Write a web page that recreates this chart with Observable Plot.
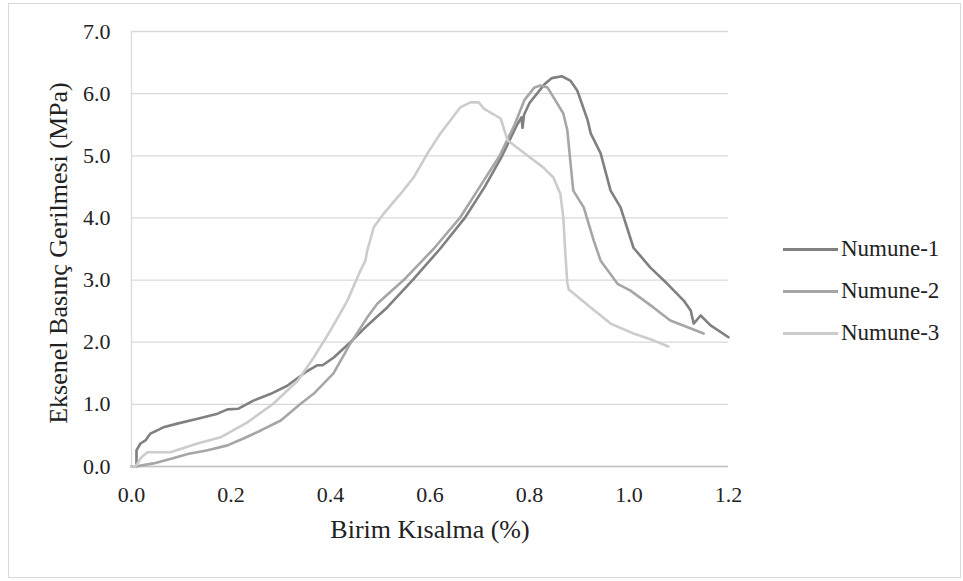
<!DOCTYPE html>
<html>
<head>
<meta charset="utf-8">
<script src="https://cdn.jsdelivr.net/npm/d3@7"></script>
<script src="https://cdn.jsdelivr.net/npm/@observablehq/plot@0.6"></script>
<style>
  html, body { margin: 0; padding: 0; background: #fff; }
  #wrap { position: relative; width: 963px; height: 581px; font-family: "Liberation Serif", "Times New Roman", serif; color: #222; }
  #frame { position: absolute; left: 8px; top: 3px; width: 951px; height: 573px; border: 1.5px solid #d9d9d9; }
  #chart { position: absolute; left: 0; top: 0; }
  .title { position: absolute; font-size: 26px; white-space: nowrap; transform: translate(-50%, -50%); }
  .ytitle { transform: translate(-50%, -50%) rotate(-90deg); }
  .leg { position: absolute; left: 783px; height: 30px; display: flex; align-items: center; transform: translateY(-50%); font-size: 23px; white-space: nowrap; }
  .leg span.sw { display: inline-block; width: 55px; height: 3px; margin-right: 3px; }
</style>
</head>
<body>
<div id="wrap">
  <div id="frame"></div>
  <div id="chart"></div>
  <div class="title ytitle" style="left:59px; top:253px;">Eksenel Basınç Gerilmesi (MPa)</div>
  <div class="title" style="left:430px; top:530px;">Birim Kısalma (%)</div>
  <div id="legend"></div>
</div>
<script>
// ---- Data ----
const seriesNames = ["Numune-1", "Numune-2", "Numune-3"];
const seriesColors = ["#808080", "#a6a6a6", "#cccccc"];

const xTicks = [0, 0.2, 0.4, 0.6, 0.8, 1.0, 1.2];
const yTicks = [0, 1, 2, 3, 4, 5, 6, 7];

const n1X = [0, 0.01, 0.01, 0.018, 0.028, 0.038, 0.064, 0.092, 0.133, 0.173, 0.193, 0.215, 0.245, 0.28, 0.313, 0.354, 0.374, 0.384, 0.406, 0.44, 0.474, 0.514, 0.565, 0.62, 0.67, 0.71, 0.745, 0.775, 0.784, 0.786, 0.789, 0.80, 0.83, 0.845, 0.865, 0.882, 0.896, 0.917, 0.923, 0.943, 0.963, 0.983, 1.009, 1.043, 1.077, 1.11, 1.124, 1.13, 1.144, 1.164, 1.2];
const n1Y = [0, 0, 0.26, 0.37, 0.42, 0.53, 0.63, 0.69, 0.77, 0.85, 0.92, 0.93, 1.06, 1.17, 1.30, 1.54, 1.63, 1.63, 1.75, 2.0, 2.27, 2.56, 3.0, 3.5, 4.0, 4.5, 5.0, 5.5, 5.62, 5.45, 5.66, 5.85, 6.15, 6.25, 6.28, 6.21, 6.05, 5.57, 5.36, 5.04, 4.44, 4.17, 3.52, 3.2, 2.94, 2.67, 2.51, 2.30, 2.43, 2.27, 2.08];

const n2X = [0, 0.008, 0.044, 0.078, 0.113, 0.153, 0.193, 0.225, 0.26, 0.3, 0.34, 0.366, 0.406, 0.44, 0.474, 0.494, 0.547, 0.607, 0.66, 0.70, 0.74, 0.77, 0.79, 0.81, 0.822, 0.836, 0.856, 0.868, 0.876, 0.882, 0.888, 0.909, 0.929, 0.943, 0.977, 1.003, 1.049, 1.083, 1.118, 1.15];
const n2Y = [0, 0, 0.05, 0.12, 0.2, 0.26, 0.34, 0.45, 0.58, 0.74, 1.01, 1.17, 1.5, 1.98, 2.40, 2.62, 3.0, 3.5, 4.0, 4.5, 5.0, 5.5, 5.9, 6.1, 6.13, 6.10, 5.84, 5.68, 5.41, 4.92, 4.44, 4.17, 3.64, 3.31, 2.94, 2.83, 2.56, 2.35, 2.24, 2.14];

const n3X = [0, 0.008, 0.02, 0.032, 0.078, 0.133, 0.179, 0.233, 0.285, 0.334, 0.366, 0.4, 0.434, 0.46, 0.47, 0.474, 0.487, 0.507, 0.541, 0.567, 0.595, 0.621, 0.661, 0.681, 0.698, 0.708, 0.742, 0.756, 0.782, 0.828, 0.848, 0.862, 0.868, 0.872, 0.876, 0.879, 0.923, 0.963, 1.009, 1.049, 1.079];
const n3Y = [0, 0, 0.15, 0.23, 0.23, 0.37, 0.47, 0.71, 1.01, 1.38, 1.75, 2.19, 2.67, 3.15, 3.31, 3.48, 3.85, 4.07, 4.39, 4.65, 5.04, 5.36, 5.78, 5.86, 5.86, 5.76, 5.60, 5.25, 5.09, 4.81, 4.65, 4.39, 4.0, 3.43, 2.95, 2.85, 2.56, 2.3, 2.14, 2.03, 1.93];

// ---- Build table ----
const seriesX = [n1X, n2X, n3X];
const seriesY = [n1Y, n2Y, n3Y];
const rows = [];
seriesNames.forEach((name, i) => {
  seriesX[i].forEach((x, j) => rows.push({series: name, x, y: seriesY[i][j]}));
});

const fmt = d3.format(".1f");
const chart = Plot.plot({
  width: 963,
  height: 581,
  marginLeft: 131,
  marginRight: 235,
  marginTop: 31,
  marginBottom: 115,
  style: {fontFamily: '"Liberation Serif", "Times New Roman", serif', fontSize: "22px", color: "#222", background: "transparent"},
  x: {domain: [0, 1.2]},
  y: {domain: [0, 7]},
  color: {domain: seriesNames, range: seriesColors},
  marks: [
    Plot.gridY(yTicks, {stroke: "#d9d9d9", strokeOpacity: 1, strokeWidth: 1.3}),
    Plot.ruleX([0], {stroke: "#d9d9d9", strokeWidth: 1.3}),
    Plot.ruleY([0], {stroke: "#c4c4c4", strokeWidth: 1.5}),
    Plot.axisX({ticks: xTicks, tickFormat: fmt, tickSize: 0, tickPadding: 20, label: null, fontSize: 22}),
    Plot.axisY({ticks: yTicks, tickFormat: fmt, tickSize: 0, tickPadding: 21, label: null, fontSize: 22}),
    Plot.line(rows, {x: "x", y: "y", z: "series", stroke: "series", strokeWidth: 2.6, strokeLinejoin: "round", strokeLinecap: "round"})
  ]
});
document.getElementById("chart").appendChild(chart);

// ---- Legend ----
const legendTops = [249, 291, 333];
const legend = document.getElementById("legend");
seriesNames.forEach((name, i) => {
  const row = document.createElement("div");
  row.className = "leg";
  row.style.top = legendTops[i] + "px";
  row.innerHTML = `<span class="sw" style="background:${seriesColors[i]}"></span><span>${name}</span>`;
  legend.appendChild(row);
});
</script>
</body>
</html>
